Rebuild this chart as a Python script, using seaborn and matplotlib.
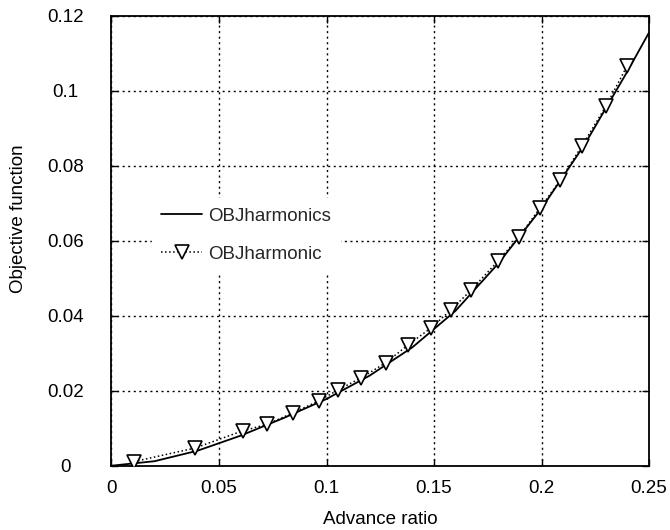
import matplotlib
matplotlib.use("Agg")
import matplotlib.pyplot as plt
import seaborn as sns
import pandas as pd

# ---- data ----
line_x = [0.0, 0.02, 0.04, 0.06, 0.08, 0.10, 0.12, 0.14, 0.16, 0.18, 0.20, 0.22, 0.24, 0.25]
line_y = [0.0, 0.0012, 0.0040, 0.0080, 0.0127, 0.0178, 0.0240, 0.0316, 0.0413,
          0.0540, 0.0686, 0.0856, 0.1052, 0.1155]

mark_x = [0.0105, 0.0388, 0.0610, 0.0722, 0.0844, 0.0965, 0.1053, 0.1160, 0.1277, 0.1379,
          0.1485, 0.1578, 0.1672, 0.1798, 0.1895, 0.1993, 0.2088, 0.2188, 0.2300, 0.2398]
mark_y = [0.0011, 0.0047, 0.0093, 0.0110, 0.0141, 0.0173, 0.0202, 0.0234, 0.0275, 0.0322,
          0.0367, 0.0415, 0.0468, 0.0546, 0.0610, 0.0687, 0.0762, 0.0853, 0.0959, 0.1066]

x_ticks = [0, 0.05, 0.1, 0.15, 0.2, 0.25]
x_tick_labels = ["0", "0.05", "0.1", "0.15", "0.2", "0.25"]
y_ticks = [0, 0.02, 0.04, 0.06, 0.08, 0.1, 0.12]
y_tick_labels = ["0", "0.02", "0.04", "0.06", "0.08", "0.1", "0.12"]

label_solid = "OBJharmonics"
label_dotted = "OBJharmonic"
x_label = "Advance ratio"
y_label = "Objective function"

sns.set_theme(style="white")
plt.rcParams["font.family"] = ["Liberation Sans", "DejaVu Sans"]
FS = 13.5

fig = plt.figure(figsize=(6.7, 5.3), dpi=100)
ax = fig.add_axes([0.1664, 0.1213, 0.8023, 0.8491])

df_line = pd.DataFrame({"x": line_x, "y": line_y})
df_mark = pd.DataFrame({"x": mark_x, "y": mark_y})

sns.lineplot(data=df_line, x="x", y="y", ax=ax, color="black", linewidth=1.3,
             label=label_solid, zorder=3)
sns.lineplot(data=df_mark, x="x", y="y", ax=ax, color="black", linewidth=1.1,
             linestyle=":", marker="v", markersize=10, markerfacecolor="white",
             markeredgecolor="black", markeredgewidth=1.2, label=label_dotted, zorder=4)

ax.set_xlim(0, 0.25)
ax.set_ylim(0, 0.12)
ax.set_xticks(x_ticks)
ax.set_xticklabels(x_tick_labels)
ax.set_yticks(y_ticks)
ax.set_yticklabels(y_tick_labels)
for t in ax.get_yticklabels():
    t.set_horizontalalignment("center")

ax.grid(True, color="black", linestyle=(0, (1.5, 2.5)), linewidth=1.0)
ax.set_axisbelow(True)

for s in ax.spines.values():
    s.set_color("black")
    s.set_linewidth(1.3)

ax.tick_params(axis="both", which="both", direction="in", length=5, width=1,
               colors="black", labelsize=FS, top=True, right=True,
               bottom=True, left=True)
ax.tick_params(axis="y", pad=33)
ax.tick_params(axis="x", pad=10)

ax.set_xlabel(x_label, fontsize=FS, color="black")
ax.set_ylabel(y_label, fontsize=FS, color="black")
ax.xaxis.set_label_coords(0.5, -0.1)
ax.yaxis.set_label_coords(-0.158, 0.55)

leg = ax.legend(loc="center left", bbox_to_anchor=(0.075, 0.512), fontsize=FS,
                frameon=True, facecolor="white", edgecolor="white", framealpha=1,
                fancybox=False, handlelength=2.2, handletextpad=0.3,
                labelspacing=1.1, borderpad=0.5, borderaxespad=0)
leg.set_zorder(5)

fig.savefig("out.png", dpi=100)
